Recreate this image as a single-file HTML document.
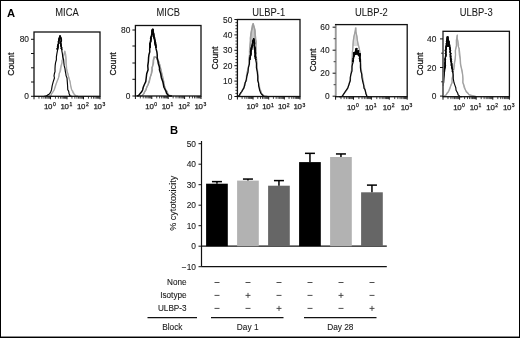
<!DOCTYPE html>
<html><head><meta charset="utf-8"><style>
html,body{margin:0;padding:0;background:#fff;}
body{width:520px;height:338px;overflow:hidden;font-family:"Liberation Sans",sans-serif;}
svg{display:block;}
#w{filter:grayscale(1);width:520px;height:338px;}
</style></head><body><div id="w">
<svg width="520" height="338" viewBox="0 0 520 338" font-family="Liberation Sans, sans-serif"><rect x="0.5" y="0.5" width="519" height="337" fill="none" stroke="#000" stroke-width="1"/>
<line x1="1" y1="336.5" x2="519" y2="336.5" stroke="#000" stroke-width="1" stroke-opacity="0.45"/>
<text x="7" y="16.5" font-size="11.2" text-anchor="start" font-weight="bold" fill="#000" stroke="#000" stroke-width="0" >A</text>
<text x="170" y="134" font-size="11.2" text-anchor="start" font-weight="bold" fill="#000" stroke="#000" stroke-width="0" >B</text>
<text x="0" y="0" font-size="10.2" text-anchor="middle" font-weight="normal" fill="#1a1a1a" stroke="#1a1a1a" stroke-width="0.08" transform="translate(67.0 16) scale(0.92 1)">MICA</text>
<polyline points="47.00,96.30 48.19,96.20 49.21,96.10 50.46,96.00 51.40,93.90 53.12,91.80 54.36,89.70 55.66,85.80 56.69,81.90 58.42,78.00 58.80,75.87 59.27,73.73 60.36,71.60 61.00,68.63 60.84,65.67 62.09,62.70 62.28,60.80 62.51,58.90 62.83,57.00 63.77,55.07 64.23,53.13 65.05,51.20 65.23,52.13 65.01,53.07 65.71,54.00 66.12,56.90 66.34,59.80 66.29,62.70 66.14,65.67 66.40,68.63 66.81,71.60 68.09,73.73 68.21,75.87 68.89,78.00 70.22,81.90 70.65,85.80 71.74,89.70 72.35,91.13 72.75,92.57 73.87,94.00 74.81,94.67 74.99,95.33 76.00,96.00 76.45,96.10 77.26,96.20 78.00,96.30" fill="none" stroke="#9c9c9c" stroke-width="1.2" stroke-linejoin="round" stroke-opacity="0.7"/>
<polyline points="47.00,96.30 48.10,96.20 49.31,96.10 50.74,96.00 51.61,93.90 52.87,91.80 54.17,89.70 55.28,85.80 56.98,81.90 58.50,78.00 59.17,75.87 59.14,73.73 59.84,71.60 60.27,68.63 61.45,65.67 61.95,62.70 61.83,60.80 62.99,58.90 63.37,57.00 63.76,55.07 64.36,53.13 64.63,51.20 64.71,52.13 65.32,53.07 65.15,54.00 65.49,56.90 65.76,59.80 65.82,62.70 66.47,65.67 66.75,68.63 67.37,71.60 67.75,73.73 68.48,75.87 69.00,78.00 70.03,81.90 70.77,85.80 71.52,89.70 72.80,91.13 73.50,92.57 74.07,94.00 74.70,94.67 75.12,95.33 76.00,96.00 76.45,96.10 77.16,96.20 78.00,96.30" fill="none" stroke="#9c9c9c" stroke-width="1.2" stroke-linejoin="round" stroke-opacity="0.7"/>
<polyline points="57.47,50.00 57.02,48.75 57.42,47.50 58.31,46.25 57.70,45.00 58.90,43.75 58.27,42.50 58.12,41.25 58.92,40.00 58.83,38.95 58.92,37.90 59.59,36.85 60.14,35.80 60.04,36.85 61.24,37.90 60.75,38.95 61.58,40.00 60.99,41.25 60.54,42.50 60.91,43.75 60.90,45.00 61.40,46.25 61.36,47.50 61.82,48.75 61.86,50.00" fill="none" stroke="#050505" stroke-width="1" stroke-linejoin="round"/>
<polyline points="57.47,50.00 57.05,48.75 57.59,47.50 57.32,46.25 57.90,45.00 58.75,43.75 58.87,42.50 58.76,41.25 59.36,40.00 59.23,38.95 60.11,37.90 60.05,36.85 59.70,35.80 60.57,36.85 60.72,37.90 61.08,38.95 60.90,40.00 61.47,41.25 60.66,42.50 60.72,43.75 60.90,45.00 60.78,46.25 61.05,47.50 61.17,48.75 61.86,50.00" fill="none" stroke="#050505" stroke-width="1" stroke-linejoin="round"/>
<polyline points="57.47,50.00 58.02,48.75 58.04,47.50 57.89,46.25 57.78,45.00 58.65,43.75 59.26,42.50 58.70,41.25 59.49,40.00 58.65,38.95 59.64,37.90 59.48,36.85 60.19,35.80 60.63,36.85 61.25,37.90 61.06,38.95 61.82,40.00 60.96,41.25 60.58,42.50 60.95,43.75 60.90,45.00 61.44,46.25 61.67,47.50 60.97,48.75 61.86,50.00" fill="none" stroke="#050505" stroke-width="1" stroke-linejoin="round"/>
<polyline points="57.47,50.00 57.08,48.75 58.31,47.50 58.16,46.25 57.80,45.00 58.79,43.75 58.73,42.50 59.26,41.25 59.16,40.00 59.61,38.95 59.99,37.90 59.68,36.85 59.63,35.80 61.03,36.85 60.21,37.90 61.10,38.95 61.99,40.00 60.99,41.25 60.77,42.50 60.84,43.75 60.90,45.00 60.72,46.25 61.73,47.50 61.34,48.75 61.86,50.00" fill="none" stroke="#050505" stroke-width="1" stroke-linejoin="round"/>
<polyline points="44.00,96.30 44.95,96.20 45.46,96.10 46.19,96.00 47.38,95.33 48.03,94.67 49.40,94.00 50.32,92.57 51.03,91.13 51.55,89.70 52.14,85.80 53.17,81.90 54.45,78.00 54.02,75.87 54.37,73.73 55.02,71.60 55.00,68.63 55.16,65.67 55.57,62.70 56.39,59.77 56.38,56.83 56.85,53.90 57.42,50.93 57.98,47.97 58.19,45.00 58.17,43.33 58.78,41.67 58.67,40.00 59.12,38.60 59.58,37.20 60.34,35.80 60.42,37.20 61.07,38.60 61.06,40.00 60.90,41.67 60.70,43.33 61.04,45.00 61.72,47.97 61.84,50.93 62.42,53.90 62.73,56.83 63.63,59.77 63.86,62.70 64.18,65.67 64.97,68.63 65.37,71.60 65.80,73.73 66.12,75.87 67.00,78.00 67.31,81.90 67.59,85.80 67.77,89.70 68.63,91.13 68.92,92.57 69.13,94.00 69.68,94.67 69.72,95.33 70.00,96.00 70.56,96.10 71.06,96.20 72.00,96.30" fill="none" stroke="#050505" stroke-width="1.15" stroke-linejoin="round" stroke-opacity="1"/>
<rect x="34" y="32" width="66" height="64.3" fill="none" stroke="#111" stroke-width="1.3"/>
<line x1="31" y1="39.3" x2="34" y2="39.3" stroke="#111" stroke-width="1"/>
<text x="29" y="42.3" font-size="8.4" text-anchor="end" font-weight="normal" fill="#1a1a1a" stroke="#1a1a1a" stroke-width="0.12" >80</text>
<line x1="31" y1="96.3" x2="34" y2="96.3" stroke="#111" stroke-width="1"/>
<text x="29" y="99.3" font-size="8.4" text-anchor="end" font-weight="normal" fill="#1a1a1a" stroke="#1a1a1a" stroke-width="0.12" >0</text>
<line x1="31" y1="53.5" x2="34" y2="53.5" stroke="#111" stroke-width="1"/>
<line x1="31" y1="67.8" x2="34" y2="67.8" stroke="#111" stroke-width="1"/>
<line x1="31" y1="82" x2="34" y2="82" stroke="#111" stroke-width="1"/>
<line x1="34.0" y1="96.3" x2="34.0" y2="99.3" stroke="#111" stroke-width="1"/>
<line x1="50.5" y1="96.3" x2="50.5" y2="99.3" stroke="#111" stroke-width="1"/>
<line x1="67.0" y1="96.3" x2="67.0" y2="99.3" stroke="#111" stroke-width="1"/>
<line x1="83.5" y1="96.3" x2="83.5" y2="99.3" stroke="#111" stroke-width="1"/>
<line x1="100.0" y1="96.3" x2="100.0" y2="99.3" stroke="#111" stroke-width="1"/>
<line x1="38.96699492845569" y1="96.3" x2="38.96699492845569" y2="98.7" stroke="#111" stroke-width="0.8"/>
<line x1="41.87250070287443" y1="96.3" x2="41.87250070287443" y2="98.7" stroke="#111" stroke-width="0.8"/>
<line x1="43.93398985691138" y1="96.3" x2="43.93398985691138" y2="98.7" stroke="#111" stroke-width="0.8"/>
<line x1="45.53300507154431" y1="96.3" x2="45.53300507154431" y2="98.7" stroke="#111" stroke-width="0.8"/>
<line x1="46.839495631330124" y1="96.3" x2="46.839495631330124" y2="98.7" stroke="#111" stroke-width="0.8"/>
<line x1="47.944117660235236" y1="96.3" x2="47.944117660235236" y2="98.7" stroke="#111" stroke-width="0.8"/>
<line x1="48.90098478536707" y1="96.3" x2="48.90098478536707" y2="98.7" stroke="#111" stroke-width="0.8"/>
<line x1="49.74500140574886" y1="96.3" x2="49.74500140574886" y2="98.7" stroke="#111" stroke-width="0.8"/>
<line x1="55.46699492845569" y1="96.3" x2="55.46699492845569" y2="98.7" stroke="#111" stroke-width="0.8"/>
<line x1="58.37250070287443" y1="96.3" x2="58.37250070287443" y2="98.7" stroke="#111" stroke-width="0.8"/>
<line x1="60.43398985691138" y1="96.3" x2="60.43398985691138" y2="98.7" stroke="#111" stroke-width="0.8"/>
<line x1="62.03300507154431" y1="96.3" x2="62.03300507154431" y2="98.7" stroke="#111" stroke-width="0.8"/>
<line x1="63.339495631330124" y1="96.3" x2="63.339495631330124" y2="98.7" stroke="#111" stroke-width="0.8"/>
<line x1="64.44411766023524" y1="96.3" x2="64.44411766023524" y2="98.7" stroke="#111" stroke-width="0.8"/>
<line x1="65.40098478536707" y1="96.3" x2="65.40098478536707" y2="98.7" stroke="#111" stroke-width="0.8"/>
<line x1="66.24500140574887" y1="96.3" x2="66.24500140574887" y2="98.7" stroke="#111" stroke-width="0.8"/>
<line x1="71.96699492845569" y1="96.3" x2="71.96699492845569" y2="98.7" stroke="#111" stroke-width="0.8"/>
<line x1="74.87250070287443" y1="96.3" x2="74.87250070287443" y2="98.7" stroke="#111" stroke-width="0.8"/>
<line x1="76.93398985691138" y1="96.3" x2="76.93398985691138" y2="98.7" stroke="#111" stroke-width="0.8"/>
<line x1="78.53300507154431" y1="96.3" x2="78.53300507154431" y2="98.7" stroke="#111" stroke-width="0.8"/>
<line x1="79.83949563133012" y1="96.3" x2="79.83949563133012" y2="98.7" stroke="#111" stroke-width="0.8"/>
<line x1="80.94411766023524" y1="96.3" x2="80.94411766023524" y2="98.7" stroke="#111" stroke-width="0.8"/>
<line x1="81.90098478536707" y1="96.3" x2="81.90098478536707" y2="98.7" stroke="#111" stroke-width="0.8"/>
<line x1="82.74500140574887" y1="96.3" x2="82.74500140574887" y2="98.7" stroke="#111" stroke-width="0.8"/>
<line x1="88.46699492845569" y1="96.3" x2="88.46699492845569" y2="98.7" stroke="#111" stroke-width="0.8"/>
<line x1="91.37250070287443" y1="96.3" x2="91.37250070287443" y2="98.7" stroke="#111" stroke-width="0.8"/>
<line x1="93.43398985691138" y1="96.3" x2="93.43398985691138" y2="98.7" stroke="#111" stroke-width="0.8"/>
<line x1="95.03300507154431" y1="96.3" x2="95.03300507154431" y2="98.7" stroke="#111" stroke-width="0.8"/>
<line x1="96.33949563133012" y1="96.3" x2="96.33949563133012" y2="98.7" stroke="#111" stroke-width="0.8"/>
<line x1="97.44411766023524" y1="96.3" x2="97.44411766023524" y2="98.7" stroke="#111" stroke-width="0.8"/>
<line x1="98.40098478536707" y1="96.3" x2="98.40098478536707" y2="98.7" stroke="#111" stroke-width="0.8"/>
<line x1="99.24500140574887" y1="96.3" x2="99.24500140574887" y2="98.7" stroke="#111" stroke-width="0.8"/>
<text x="49.7" y="109.2" font-size="7.9" text-anchor="middle" fill="#1a1a1a" stroke="#1a1a1a" stroke-width="0.25" letter-spacing="-0.35">10<tspan font-size="5" dx="0.75" dy="-2.9">0</tspan></text>
<text x="66.2" y="109.2" font-size="7.9" text-anchor="middle" fill="#1a1a1a" stroke="#1a1a1a" stroke-width="0.25" letter-spacing="-0.35">10<tspan font-size="5" dx="0.75" dy="-2.9">1</tspan></text>
<text x="82.7" y="109.2" font-size="7.9" text-anchor="middle" fill="#1a1a1a" stroke="#1a1a1a" stroke-width="0.25" letter-spacing="-0.35">10<tspan font-size="5" dx="0.75" dy="-2.9">2</tspan></text>
<text x="99.2" y="109.2" font-size="7.9" text-anchor="middle" fill="#1a1a1a" stroke="#1a1a1a" stroke-width="0.25" letter-spacing="-0.35">10<tspan font-size="5" dx="0.75" dy="-2.9">3</tspan></text>
<text x="0" y="0" font-size="9.8" text-anchor="middle" fill="#1a1a1a" stroke="#1a1a1a" stroke-width="0.3" transform="translate(13.6 64.2) rotate(-90) scale(0.88 1)">Count</text>
<text x="0" y="0" font-size="10.2" text-anchor="middle" font-weight="normal" fill="#1a1a1a" stroke="#1a1a1a" stroke-width="0.08" transform="translate(168.2 16) scale(0.92 1)">MICB</text>
<polyline points="140.00,96.00 140.87,95.83 141.46,95.67 142.03,95.50 143.82,93.67 144.54,91.83 145.76,90.00 146.90,87.23 148.14,84.47 149.49,81.70 149.96,77.73 151.49,73.77 152.49,69.80 151.91,68.73 151.91,67.67 152.16,66.60 153.44,63.37 153.80,60.13 154.72,56.90 155.51,57.10 155.92,57.30 156.54,57.50 156.83,59.07 157.56,60.63 159.11,62.20 159.71,64.73 160.53,67.27 161.07,69.80 161.97,73.77 162.74,77.73 163.80,81.70 163.81,84.47 164.99,87.23 165.61,90.00 167.03,91.67 167.98,93.33 168.50,95.00 169.09,95.33 169.75,95.67 171.00,96.00" fill="none" stroke="#9c9c9c" stroke-width="1.2" stroke-linejoin="round" stroke-opacity="0.8"/>
<polyline points="140.00,96.00 140.35,95.83 141.28,95.67 142.39,95.50 143.85,93.67 144.47,91.83 145.61,90.00 146.73,87.23 148.26,84.47 148.65,81.70 150.24,77.73 151.16,73.77 151.64,69.80 152.20,68.73 152.28,67.67 152.41,66.60 153.60,63.37 153.29,60.13 153.82,56.90 155.47,57.10 155.67,57.30 156.20,57.50 157.10,59.07 157.90,60.63 159.26,62.20 159.24,64.73 159.98,67.27 161.08,69.80 161.85,73.77 163.05,77.73 163.74,81.70 164.06,84.47 164.70,87.23 166.14,90.00 167.19,91.67 167.13,93.33 168.50,95.00 169.57,95.33 170.54,95.67 171.00,96.00" fill="none" stroke="#9c9c9c" stroke-width="1.2" stroke-linejoin="round" stroke-opacity="0.8"/>
<polyline points="140.00,96.00 140.41,95.83 141.38,95.67 142.30,95.50 144.07,93.67 144.83,91.83 146.22,90.00 146.60,87.23 148.01,84.47 149.34,81.70 150.02,77.73 151.44,73.77 152.38,69.80 152.04,68.73 151.83,67.67 152.76,66.60 152.73,63.37 153.21,60.13 154.53,56.90 155.38,57.10 156.10,57.30 156.95,57.50 156.97,59.07 157.61,60.63 158.42,62.20 160.01,64.73 159.88,67.27 160.66,69.80 161.32,73.77 162.15,77.73 162.94,81.70 164.05,84.47 164.66,87.23 165.61,90.00 167.13,91.67 167.27,93.33 168.50,95.00 169.65,95.33 170.41,95.67 171.00,96.00" fill="none" stroke="#9c9c9c" stroke-width="1.2" stroke-linejoin="round" stroke-opacity="0.8"/>
<polyline points="149.96,48.00 149.83,46.00 149.89,44.00 150.80,42.00 150.59,40.00 151.14,38.75 150.94,37.50 151.86,36.25 151.99,35.00 151.82,33.50 152.62,32.00 151.95,30.50 152.10,29.00 153.31,30.50 153.63,32.00 153.66,33.50 153.82,35.00 153.19,36.25 153.80,37.50 154.86,38.75 154.80,40.00 154.40,42.00 155.12,44.00 155.30,46.00 155.97,48.00" fill="none" stroke="#050505" stroke-width="1" stroke-linejoin="round"/>
<polyline points="149.96,48.00 150.09,46.00 150.13,44.00 150.82,42.00 150.91,40.00 151.16,38.75 150.85,37.50 151.89,36.25 151.06,35.00 152.16,33.50 152.24,32.00 151.81,30.50 153.12,29.00 153.00,30.50 152.40,32.00 153.61,33.50 153.75,35.00 153.86,36.25 153.47,37.50 154.70,38.75 154.80,40.00 155.75,42.00 155.97,44.00 155.39,46.00 155.97,48.00" fill="none" stroke="#050505" stroke-width="1" stroke-linejoin="round"/>
<polyline points="149.96,48.00 150.55,46.00 149.67,44.00 150.56,42.00 150.37,40.00 150.82,38.75 150.87,37.50 151.12,36.25 151.75,35.00 152.23,33.50 151.54,32.00 152.63,30.50 152.67,29.00 152.72,30.50 153.27,32.00 153.61,33.50 153.77,35.00 153.81,36.25 154.60,37.50 154.86,38.75 154.80,40.00 155.06,42.00 154.90,44.00 155.39,46.00 155.97,48.00" fill="none" stroke="#050505" stroke-width="1" stroke-linejoin="round"/>
<polyline points="149.96,48.00 149.74,46.00 150.01,44.00 150.76,42.00 151.06,40.00 151.44,38.75 151.33,37.50 151.22,36.25 152.18,35.00 152.28,33.50 152.48,32.00 152.59,30.50 153.05,29.00 152.61,30.50 153.27,32.00 153.90,33.50 153.71,35.00 154.36,36.25 154.73,37.50 153.98,38.75 154.80,40.00 154.61,42.00 155.74,44.00 156.33,46.00 155.97,48.00" fill="none" stroke="#050505" stroke-width="1" stroke-linejoin="round"/>
<polyline points="137.00,96.00 137.64,95.83 138.60,95.67 138.67,95.50 140.01,93.67 141.66,91.83 142.62,90.00 143.24,87.23 144.39,84.47 145.77,81.70 146.23,77.73 146.70,73.77 148.08,69.80 147.77,65.77 148.37,61.73 148.58,57.70 148.94,54.77 149.76,51.83 149.67,48.90 150.17,45.93 150.03,42.97 150.83,40.00 150.58,38.33 151.18,36.67 151.73,35.00 152.10,33.00 151.88,31.00 152.76,29.00 153.07,31.00 153.04,33.00 153.68,35.00 153.74,36.67 154.12,38.33 154.56,40.00 155.10,42.97 155.90,45.93 156.07,48.90 156.88,51.83 157.24,54.77 157.20,57.70 157.95,60.67 158.30,63.63 159.26,66.60 159.44,67.67 159.59,68.73 159.41,69.80 160.74,73.77 161.36,77.73 162.84,81.70 163.37,84.47 163.92,87.23 165.33,90.00 166.11,91.57 166.48,93.13 167.70,94.70 168.02,95.13 168.96,95.57 169.70,96.00 170.52,96.00 171.44,96.00 172.00,96.00" fill="none" stroke="#050505" stroke-width="1.5" stroke-linejoin="round" stroke-opacity="1"/>
<rect x="135.4" y="25.5" width="65.6" height="70.5" fill="none" stroke="#111" stroke-width="1.3"/>
<line x1="132.4" y1="30" x2="135.4" y2="30" stroke="#111" stroke-width="1"/>
<text x="130.4" y="33" font-size="8.4" text-anchor="end" font-weight="normal" fill="#1a1a1a" stroke="#1a1a1a" stroke-width="0.12" >80</text>
<line x1="132.4" y1="96" x2="135.4" y2="96" stroke="#111" stroke-width="1"/>
<text x="130.4" y="99" font-size="8.4" text-anchor="end" font-weight="normal" fill="#1a1a1a" stroke="#1a1a1a" stroke-width="0.12" >0</text>
<line x1="132.4" y1="46" x2="135.4" y2="46" stroke="#111" stroke-width="1"/>
<line x1="132.4" y1="63" x2="135.4" y2="63" stroke="#111" stroke-width="1"/>
<line x1="132.4" y1="79.3" x2="135.4" y2="79.3" stroke="#111" stroke-width="1"/>
<line x1="135.4" y1="96" x2="135.4" y2="99" stroke="#111" stroke-width="1"/>
<line x1="151.8" y1="96" x2="151.8" y2="99" stroke="#111" stroke-width="1"/>
<line x1="168.2" y1="96" x2="168.2" y2="99" stroke="#111" stroke-width="1"/>
<line x1="184.6" y1="96" x2="184.6" y2="99" stroke="#111" stroke-width="1"/>
<line x1="201.0" y1="96" x2="201.0" y2="99" stroke="#111" stroke-width="1"/>
<line x1="140.3368919288893" y1="96" x2="140.3368919288893" y2="98.4" stroke="#111" stroke-width="0.8"/>
<line x1="143.22478857740248" y1="96" x2="143.22478857740248" y2="98.4" stroke="#111" stroke-width="0.8"/>
<line x1="145.2737838577786" y1="96" x2="145.2737838577786" y2="98.4" stroke="#111" stroke-width="0.8"/>
<line x1="146.8631080711107" y1="96" x2="146.8631080711107" y2="98.4" stroke="#111" stroke-width="0.8"/>
<line x1="148.16168050629176" y1="96" x2="148.16168050629176" y2="98.4" stroke="#111" stroke-width="0.8"/>
<line x1="149.25960785623383" y1="96" x2="149.25960785623383" y2="98.4" stroke="#111" stroke-width="0.8"/>
<line x1="150.21067578666788" y1="96" x2="150.21067578666788" y2="98.4" stroke="#111" stroke-width="0.8"/>
<line x1="151.04957715480492" y1="96" x2="151.04957715480492" y2="98.4" stroke="#111" stroke-width="0.8"/>
<line x1="156.7368919288893" y1="96" x2="156.7368919288893" y2="98.4" stroke="#111" stroke-width="0.8"/>
<line x1="159.62478857740248" y1="96" x2="159.62478857740248" y2="98.4" stroke="#111" stroke-width="0.8"/>
<line x1="161.6737838577786" y1="96" x2="161.6737838577786" y2="98.4" stroke="#111" stroke-width="0.8"/>
<line x1="163.2631080711107" y1="96" x2="163.2631080711107" y2="98.4" stroke="#111" stroke-width="0.8"/>
<line x1="164.56168050629176" y1="96" x2="164.56168050629176" y2="98.4" stroke="#111" stroke-width="0.8"/>
<line x1="165.65960785623383" y1="96" x2="165.65960785623383" y2="98.4" stroke="#111" stroke-width="0.8"/>
<line x1="166.61067578666788" y1="96" x2="166.61067578666788" y2="98.4" stroke="#111" stroke-width="0.8"/>
<line x1="167.44957715480493" y1="96" x2="167.44957715480493" y2="98.4" stroke="#111" stroke-width="0.8"/>
<line x1="173.13689192888927" y1="96" x2="173.13689192888927" y2="98.4" stroke="#111" stroke-width="0.8"/>
<line x1="176.02478857740246" y1="96" x2="176.02478857740246" y2="98.4" stroke="#111" stroke-width="0.8"/>
<line x1="178.07378385777858" y1="96" x2="178.07378385777858" y2="98.4" stroke="#111" stroke-width="0.8"/>
<line x1="179.66310807111068" y1="96" x2="179.66310807111068" y2="98.4" stroke="#111" stroke-width="0.8"/>
<line x1="180.96168050629174" y1="96" x2="180.96168050629174" y2="98.4" stroke="#111" stroke-width="0.8"/>
<line x1="182.0596078562338" y1="96" x2="182.0596078562338" y2="98.4" stroke="#111" stroke-width="0.8"/>
<line x1="183.01067578666786" y1="96" x2="183.01067578666786" y2="98.4" stroke="#111" stroke-width="0.8"/>
<line x1="183.8495771548049" y1="96" x2="183.8495771548049" y2="98.4" stroke="#111" stroke-width="0.8"/>
<line x1="189.53689192888928" y1="96" x2="189.53689192888928" y2="98.4" stroke="#111" stroke-width="0.8"/>
<line x1="192.42478857740247" y1="96" x2="192.42478857740247" y2="98.4" stroke="#111" stroke-width="0.8"/>
<line x1="194.47378385777859" y1="96" x2="194.47378385777859" y2="98.4" stroke="#111" stroke-width="0.8"/>
<line x1="196.0631080711107" y1="96" x2="196.0631080711107" y2="98.4" stroke="#111" stroke-width="0.8"/>
<line x1="197.36168050629175" y1="96" x2="197.36168050629175" y2="98.4" stroke="#111" stroke-width="0.8"/>
<line x1="198.45960785623382" y1="96" x2="198.45960785623382" y2="98.4" stroke="#111" stroke-width="0.8"/>
<line x1="199.41067578666787" y1="96" x2="199.41067578666787" y2="98.4" stroke="#111" stroke-width="0.8"/>
<line x1="200.2495771548049" y1="96" x2="200.2495771548049" y2="98.4" stroke="#111" stroke-width="0.8"/>
<text x="151.0" y="108.9" font-size="7.9" text-anchor="middle" fill="#1a1a1a" stroke="#1a1a1a" stroke-width="0.25" letter-spacing="-0.35">10<tspan font-size="5" dx="0.75" dy="-2.9">0</tspan></text>
<text x="167.39999999999998" y="108.9" font-size="7.9" text-anchor="middle" fill="#1a1a1a" stroke="#1a1a1a" stroke-width="0.25" letter-spacing="-0.35">10<tspan font-size="5" dx="0.75" dy="-2.9">1</tspan></text>
<text x="183.79999999999998" y="108.9" font-size="7.9" text-anchor="middle" fill="#1a1a1a" stroke="#1a1a1a" stroke-width="0.25" letter-spacing="-0.35">10<tspan font-size="5" dx="0.75" dy="-2.9">2</tspan></text>
<text x="200.2" y="108.9" font-size="7.9" text-anchor="middle" fill="#1a1a1a" stroke="#1a1a1a" stroke-width="0.25" letter-spacing="-0.35">10<tspan font-size="5" dx="0.75" dy="-2.9">3</tspan></text>
<text x="0" y="0" font-size="9.8" text-anchor="middle" fill="#1a1a1a" stroke="#1a1a1a" stroke-width="0.3" transform="translate(115.6 63.9) rotate(-90) scale(0.88 1)">Count</text>
<text x="0" y="0" font-size="10.2" text-anchor="middle" font-weight="normal" fill="#1a1a1a" stroke="#1a1a1a" stroke-width="0.08" transform="translate(268.7 16) scale(0.92 1)">ULBP-1</text>
<polygon points="249.94,50.00 250.40,42.00 251.30,30.50 252.90,23.60 254.80,30.50 255.80,42.00 255.92,50.00" fill="#c8c8c8" stroke="none"/>
<polyline points="239.00,96.50 239.66,95.33 240.10,94.17 241.14,93.00 241.61,91.33 242.71,89.67 244.07,88.00 243.99,85.50 245.02,83.00 246.18,80.50 246.35,76.23 247.19,71.97 248.63,67.70 249.21,63.80 248.99,59.90 249.29,56.00 250.34,51.33 249.96,46.67 250.50,42.00 250.81,38.17 251.13,34.33 251.72,30.50 252.30,28.20 252.56,25.90 253.22,23.60 253.83,25.90 254.31,28.20 254.73,30.50 254.86,34.33 255.23,38.17 256.23,42.00 256.07,46.33 255.54,50.67 256.41,55.00 256.10,59.23 256.86,63.47 256.96,67.70 257.17,71.97 257.51,76.23 258.28,80.50 258.55,83.03 259.19,85.57 259.70,88.10 260.42,89.80 261.05,91.50 261.30,93.20 262.33,94.23 263.57,95.27 264.00,96.30" fill="none" stroke="#9c9c9c" stroke-width="1.2" stroke-linejoin="round" stroke-opacity="0.8"/>
<polyline points="239.00,96.50 239.41,95.33 240.34,94.17 240.66,93.00 242.19,91.33 242.46,89.67 243.65,88.00 244.83,85.50 245.10,83.00 246.47,80.50 247.00,76.23 247.58,71.97 248.43,67.70 248.82,63.80 249.03,59.90 250.10,56.00 249.77,51.33 250.62,46.67 250.75,42.00 250.23,38.17 250.76,34.33 251.28,30.50 252.15,28.20 252.04,25.90 253.02,23.60 253.40,25.90 254.45,28.20 255.23,30.50 255.40,34.33 255.16,38.17 256.06,42.00 255.80,46.33 256.27,50.67 255.97,55.00 256.74,59.23 257.15,63.47 257.32,67.70 257.73,71.97 258.12,76.23 258.29,80.50 258.31,83.03 259.55,85.57 259.46,88.10 259.62,89.80 260.63,91.50 261.30,93.20 262.11,94.23 262.80,95.27 264.00,96.30" fill="none" stroke="#9c9c9c" stroke-width="1.2" stroke-linejoin="round" stroke-opacity="0.8"/>
<polyline points="239.00,96.50 240.15,95.33 239.89,94.17 241.23,93.00 241.85,91.33 243.18,89.67 243.51,88.00 244.82,85.50 244.86,83.00 246.49,80.50 246.68,76.23 247.22,71.97 248.15,67.70 248.86,63.80 248.70,59.90 249.49,56.00 249.38,51.33 249.70,46.67 250.07,42.00 250.43,38.17 250.77,34.33 251.58,30.50 251.75,28.20 252.72,25.90 253.30,23.60 253.93,25.90 254.61,28.20 254.88,30.50 255.30,34.33 255.85,38.17 255.84,42.00 255.51,46.33 255.95,50.67 256.03,55.00 256.01,59.23 256.26,63.47 256.68,67.70 257.60,71.97 258.11,76.23 258.36,80.50 258.56,83.03 258.60,85.57 259.00,88.10 260.25,89.80 260.73,91.50 261.30,93.20 262.16,94.23 262.77,95.27 264.00,96.30" fill="none" stroke="#9c9c9c" stroke-width="1.2" stroke-linejoin="round" stroke-opacity="0.8"/>
<polyline points="249.82,60.00 250.58,59.00 249.89,58.00 250.17,57.00 251.04,56.00 251.28,53.95 250.80,51.90 251.15,49.85 252.08,47.80 252.30,45.50 252.63,43.20 252.39,40.90 253.96,38.60 254.13,40.90 254.08,43.20 254.18,45.50 254.30,47.80 254.60,49.60 254.64,51.40 255.07,53.20 255.30,55.00 255.70,56.25 255.99,57.50 255.16,58.75 255.81,60.00" fill="none" stroke="#050505" stroke-width="1" stroke-linejoin="round"/>
<polyline points="249.82,60.00 249.53,59.00 250.20,58.00 250.58,57.00 249.85,56.00 251.00,53.95 250.95,51.90 251.74,49.85 251.96,47.80 251.83,45.50 252.78,43.20 253.21,40.90 253.63,38.60 254.18,40.90 254.56,43.20 254.29,45.50 254.75,47.80 255.15,49.60 255.00,51.40 255.52,53.20 255.30,55.00 255.04,56.25 255.19,57.50 255.61,58.75 255.81,60.00" fill="none" stroke="#050505" stroke-width="1" stroke-linejoin="round"/>
<polyline points="249.82,60.00 249.83,59.00 249.88,58.00 250.58,57.00 250.35,56.00 250.82,53.95 250.78,51.90 251.63,49.85 251.56,47.80 252.70,45.50 252.34,43.20 253.01,40.90 253.51,38.60 254.29,40.90 254.04,43.20 254.28,45.50 254.50,47.80 254.56,49.60 254.54,51.40 254.87,53.20 255.30,55.00 254.96,56.25 255.84,57.50 255.10,58.75 255.81,60.00" fill="none" stroke="#050505" stroke-width="1" stroke-linejoin="round"/>
<polyline points="249.82,60.00 249.50,59.00 250.21,58.00 250.18,57.00 250.51,56.00 250.70,53.95 250.32,51.90 250.63,49.85 250.89,47.80 252.27,45.50 252.50,43.20 253.63,40.90 253.47,38.60 254.28,40.90 254.87,43.20 254.30,45.50 255.45,47.80 255.05,49.60 255.41,51.40 255.78,53.20 255.30,55.00 254.74,56.25 254.95,57.50 256.24,58.75 255.81,60.00" fill="none" stroke="#050505" stroke-width="1" stroke-linejoin="round"/>
<polyline points="237.50,96.50 237.70,96.40 238.22,96.30 238.34,96.20 239.38,95.20 239.81,94.20 240.38,93.20 241.81,91.50 242.77,89.80 243.85,88.10 244.58,85.57 245.11,83.03 246.12,80.50 246.85,76.23 248.07,71.97 248.36,67.70 249.47,63.80 249.60,59.90 250.26,56.00 250.86,53.27 251.26,50.53 251.51,47.80 252.24,44.73 252.96,41.67 253.67,38.60 253.79,41.67 254.39,44.73 254.66,47.80 255.15,50.20 255.06,52.60 255.12,55.00 255.58,59.23 256.48,63.47 256.34,67.70 257.31,71.97 257.75,76.23 257.69,80.50 258.56,83.03 258.55,85.57 259.30,88.10 259.47,89.80 260.14,91.50 260.80,93.20 261.58,94.23 262.76,95.27 263.40,96.30 265.04,96.37 266.14,96.43 268.00,96.50" fill="none" stroke="#050505" stroke-width="1.15" stroke-linejoin="round" stroke-opacity="1"/>
<rect x="237.4" y="19.5" width="62.599999999999994" height="77.0" fill="none" stroke="#111" stroke-width="1.3"/>
<line x1="234.4" y1="19.5" x2="237.4" y2="19.5" stroke="#111" stroke-width="1"/>
<text x="232.4" y="22.5" font-size="8.4" text-anchor="end" font-weight="normal" fill="#1a1a1a" stroke="#1a1a1a" stroke-width="0.12" >50</text>
<line x1="234.4" y1="34.9" x2="237.4" y2="34.9" stroke="#111" stroke-width="1"/>
<text x="232.4" y="37.9" font-size="8.4" text-anchor="end" font-weight="normal" fill="#1a1a1a" stroke="#1a1a1a" stroke-width="0.12" >40</text>
<line x1="234.4" y1="50.3" x2="237.4" y2="50.3" stroke="#111" stroke-width="1"/>
<text x="232.4" y="53.3" font-size="8.4" text-anchor="end" font-weight="normal" fill="#1a1a1a" stroke="#1a1a1a" stroke-width="0.12" >30</text>
<line x1="234.4" y1="65.7" x2="237.4" y2="65.7" stroke="#111" stroke-width="1"/>
<text x="232.4" y="68.7" font-size="8.4" text-anchor="end" font-weight="normal" fill="#1a1a1a" stroke="#1a1a1a" stroke-width="0.12" >20</text>
<line x1="234.4" y1="81.1" x2="237.4" y2="81.1" stroke="#111" stroke-width="1"/>
<text x="232.4" y="84.1" font-size="8.4" text-anchor="end" font-weight="normal" fill="#1a1a1a" stroke="#1a1a1a" stroke-width="0.12" >10</text>
<line x1="234.4" y1="96.5" x2="237.4" y2="96.5" stroke="#111" stroke-width="1"/>
<text x="232.4" y="99.5" font-size="8.4" text-anchor="end" font-weight="normal" fill="#1a1a1a" stroke="#1a1a1a" stroke-width="0.12" >0</text>
<line x1="235.4" y1="22.58" x2="237.4" y2="22.58" stroke="#111" stroke-width="0.8"/>
<line x1="235.4" y1="25.66" x2="237.4" y2="25.66" stroke="#111" stroke-width="0.8"/>
<line x1="235.4" y1="28.740000000000002" x2="237.4" y2="28.740000000000002" stroke="#111" stroke-width="0.8"/>
<line x1="235.4" y1="31.82" x2="237.4" y2="31.82" stroke="#111" stroke-width="0.8"/>
<line x1="235.4" y1="37.980000000000004" x2="237.4" y2="37.980000000000004" stroke="#111" stroke-width="0.8"/>
<line x1="235.4" y1="41.06" x2="237.4" y2="41.06" stroke="#111" stroke-width="0.8"/>
<line x1="235.4" y1="44.14" x2="237.4" y2="44.14" stroke="#111" stroke-width="0.8"/>
<line x1="235.4" y1="47.22" x2="237.4" y2="47.22" stroke="#111" stroke-width="0.8"/>
<line x1="235.4" y1="53.38" x2="237.4" y2="53.38" stroke="#111" stroke-width="0.8"/>
<line x1="235.4" y1="56.46" x2="237.4" y2="56.46" stroke="#111" stroke-width="0.8"/>
<line x1="235.4" y1="59.540000000000006" x2="237.4" y2="59.540000000000006" stroke="#111" stroke-width="0.8"/>
<line x1="235.4" y1="62.62" x2="237.4" y2="62.62" stroke="#111" stroke-width="0.8"/>
<line x1="235.4" y1="68.78" x2="237.4" y2="68.78" stroke="#111" stroke-width="0.8"/>
<line x1="235.4" y1="71.86" x2="237.4" y2="71.86" stroke="#111" stroke-width="0.8"/>
<line x1="235.4" y1="74.94" x2="237.4" y2="74.94" stroke="#111" stroke-width="0.8"/>
<line x1="235.4" y1="78.02000000000001" x2="237.4" y2="78.02000000000001" stroke="#111" stroke-width="0.8"/>
<line x1="235.4" y1="84.18" x2="237.4" y2="84.18" stroke="#111" stroke-width="0.8"/>
<line x1="235.4" y1="87.26" x2="237.4" y2="87.26" stroke="#111" stroke-width="0.8"/>
<line x1="235.4" y1="90.34" x2="237.4" y2="90.34" stroke="#111" stroke-width="0.8"/>
<line x1="235.4" y1="93.42" x2="237.4" y2="93.42" stroke="#111" stroke-width="0.8"/>
<line x1="237.4" y1="96.5" x2="237.4" y2="99.5" stroke="#111" stroke-width="1"/>
<line x1="253.05" y1="96.5" x2="253.05" y2="99.5" stroke="#111" stroke-width="1"/>
<line x1="268.7" y1="96.5" x2="268.7" y2="99.5" stroke="#111" stroke-width="1"/>
<line x1="284.35" y1="96.5" x2="284.35" y2="99.5" stroke="#111" stroke-width="1"/>
<line x1="300.0" y1="96.5" x2="300.0" y2="99.5" stroke="#111" stroke-width="1"/>
<line x1="242.11111943214132" y1="96.5" x2="242.11111943214132" y2="98.9" stroke="#111" stroke-width="0.8"/>
<line x1="244.8669476363627" y1="96.5" x2="244.8669476363627" y2="98.9" stroke="#111" stroke-width="0.8"/>
<line x1="246.8222388642826" y1="96.5" x2="246.8222388642826" y2="98.9" stroke="#111" stroke-width="0.8"/>
<line x1="248.3388805678587" y1="96.5" x2="248.3388805678587" y2="98.9" stroke="#111" stroke-width="0.8"/>
<line x1="249.57806706850403" y1="96.5" x2="249.57806706850403" y2="98.9" stroke="#111" stroke-width="0.8"/>
<line x1="250.6257843262231" y1="96.5" x2="250.6257843262231" y2="98.9" stroke="#111" stroke-width="0.8"/>
<line x1="251.53335829642393" y1="96.5" x2="251.53335829642393" y2="98.9" stroke="#111" stroke-width="0.8"/>
<line x1="252.33389527272544" y1="96.5" x2="252.33389527272544" y2="98.9" stroke="#111" stroke-width="0.8"/>
<line x1="257.7611194321413" y1="96.5" x2="257.7611194321413" y2="98.9" stroke="#111" stroke-width="0.8"/>
<line x1="260.5169476363627" y1="96.5" x2="260.5169476363627" y2="98.9" stroke="#111" stroke-width="0.8"/>
<line x1="262.47223886428264" y1="96.5" x2="262.47223886428264" y2="98.9" stroke="#111" stroke-width="0.8"/>
<line x1="263.9888805678587" y1="96.5" x2="263.9888805678587" y2="98.9" stroke="#111" stroke-width="0.8"/>
<line x1="265.22806706850406" y1="96.5" x2="265.22806706850406" y2="98.9" stroke="#111" stroke-width="0.8"/>
<line x1="266.2757843262231" y1="96.5" x2="266.2757843262231" y2="98.9" stroke="#111" stroke-width="0.8"/>
<line x1="267.18335829642393" y1="96.5" x2="267.18335829642393" y2="98.9" stroke="#111" stroke-width="0.8"/>
<line x1="267.9838952727254" y1="96.5" x2="267.9838952727254" y2="98.9" stroke="#111" stroke-width="0.8"/>
<line x1="273.4111194321413" y1="96.5" x2="273.4111194321413" y2="98.9" stroke="#111" stroke-width="0.8"/>
<line x1="276.1669476363627" y1="96.5" x2="276.1669476363627" y2="98.9" stroke="#111" stroke-width="0.8"/>
<line x1="278.1222388642826" y1="96.5" x2="278.1222388642826" y2="98.9" stroke="#111" stroke-width="0.8"/>
<line x1="279.6388805678587" y1="96.5" x2="279.6388805678587" y2="98.9" stroke="#111" stroke-width="0.8"/>
<line x1="280.87806706850404" y1="96.5" x2="280.87806706850404" y2="98.9" stroke="#111" stroke-width="0.8"/>
<line x1="281.9257843262231" y1="96.5" x2="281.9257843262231" y2="98.9" stroke="#111" stroke-width="0.8"/>
<line x1="282.8333582964239" y1="96.5" x2="282.8333582964239" y2="98.9" stroke="#111" stroke-width="0.8"/>
<line x1="283.6338952727254" y1="96.5" x2="283.6338952727254" y2="98.9" stroke="#111" stroke-width="0.8"/>
<line x1="289.0611194321413" y1="96.5" x2="289.0611194321413" y2="98.9" stroke="#111" stroke-width="0.8"/>
<line x1="291.8169476363627" y1="96.5" x2="291.8169476363627" y2="98.9" stroke="#111" stroke-width="0.8"/>
<line x1="293.77223886428266" y1="96.5" x2="293.77223886428266" y2="98.9" stroke="#111" stroke-width="0.8"/>
<line x1="295.2888805678587" y1="96.5" x2="295.2888805678587" y2="98.9" stroke="#111" stroke-width="0.8"/>
<line x1="296.5280670685041" y1="96.5" x2="296.5280670685041" y2="98.9" stroke="#111" stroke-width="0.8"/>
<line x1="297.57578432622313" y1="96.5" x2="297.57578432622313" y2="98.9" stroke="#111" stroke-width="0.8"/>
<line x1="298.48335829642394" y1="96.5" x2="298.48335829642394" y2="98.9" stroke="#111" stroke-width="0.8"/>
<line x1="299.28389527272543" y1="96.5" x2="299.28389527272543" y2="98.9" stroke="#111" stroke-width="0.8"/>
<text x="252.25" y="109.4" font-size="7.9" text-anchor="middle" fill="#1a1a1a" stroke="#1a1a1a" stroke-width="0.25" letter-spacing="-0.35">10<tspan font-size="5" dx="0.75" dy="-2.9">0</tspan></text>
<text x="267.9" y="109.4" font-size="7.9" text-anchor="middle" fill="#1a1a1a" stroke="#1a1a1a" stroke-width="0.25" letter-spacing="-0.35">10<tspan font-size="5" dx="0.75" dy="-2.9">1</tspan></text>
<text x="283.55" y="109.4" font-size="7.9" text-anchor="middle" fill="#1a1a1a" stroke="#1a1a1a" stroke-width="0.25" letter-spacing="-0.35">10<tspan font-size="5" dx="0.75" dy="-2.9">2</tspan></text>
<text x="299.2" y="109.4" font-size="7.9" text-anchor="middle" fill="#1a1a1a" stroke="#1a1a1a" stroke-width="0.25" letter-spacing="-0.35">10<tspan font-size="5" dx="0.75" dy="-2.9">3</tspan></text>
<text x="0" y="0" font-size="9.8" text-anchor="middle" fill="#1a1a1a" stroke="#1a1a1a" stroke-width="0.3" transform="translate(218 58) rotate(-90) scale(0.88 1)">Count</text>
<text x="0" y="0" font-size="10.2" text-anchor="middle" font-weight="normal" fill="#1a1a1a" stroke="#1a1a1a" stroke-width="0.08" transform="translate(371.4 16.2) scale(0.92 1)">ULBP-2</text>
<polygon points="352.99,46.00 353.50,40.90 355.70,27.90 357.40,40.90 358.46,46.00" fill="#dadada" stroke="none"/>
<polyline points="342.00,96.70 343.12,95.53 343.52,94.37 344.47,93.20 345.31,91.47 346.98,89.73 347.46,88.00 348.66,85.50 349.44,83.00 350.35,80.50 350.74,76.23 351.32,71.97 351.93,67.70 351.83,62.47 352.14,57.23 352.24,52.00 352.96,48.30 353.10,44.60 353.22,40.90 353.91,36.57 354.86,32.23 356.04,27.90 355.93,32.23 356.80,36.57 357.59,40.90 357.90,44.60 359.15,48.30 359.97,52.00 360.20,54.67 359.98,57.33 360.80,60.00 360.48,62.57 361.04,65.13 361.21,67.70 361.68,71.97 362.51,76.23 363.19,80.50 363.71,83.00 363.87,85.50 364.82,88.00 365.09,89.73 365.40,91.47 366.00,93.20 366.07,94.30 366.90,95.40 367.00,96.50" fill="none" stroke="#9c9c9c" stroke-width="1.2" stroke-linejoin="round" stroke-opacity="0.8"/>
<polyline points="342.00,96.70 342.71,95.53 343.75,94.37 344.16,93.20 345.90,91.47 346.86,89.73 348.05,88.00 348.37,85.50 349.16,83.00 349.89,80.50 350.59,76.23 351.07,71.97 352.13,67.70 352.04,62.47 352.49,57.23 352.58,52.00 352.66,48.30 352.90,44.60 353.39,40.90 353.90,36.57 355.07,32.23 355.48,27.90 356.02,32.23 357.11,36.57 357.36,40.90 358.48,44.60 359.27,48.30 359.81,52.00 359.79,54.67 359.99,57.33 360.32,60.00 360.83,62.57 360.84,65.13 360.86,67.70 361.33,71.97 362.23,76.23 362.92,80.50 363.20,83.00 363.82,85.50 364.36,88.00 364.94,89.73 365.50,91.47 366.00,93.20 366.38,94.30 366.91,95.40 367.00,96.50" fill="none" stroke="#9c9c9c" stroke-width="1.2" stroke-linejoin="round" stroke-opacity="0.8"/>
<polygon points="353.93,55.00 354.20,52.50 355.00,55.00 355.00,55.00 356.30,48.30 357.10,53.50 358.10,50.50 358.67,55.00 359.16,55.00 359.70,53.50 359.79,55.00" fill="#222" stroke="none"/>
<polyline points="352.87,62.00 353.29,61.00 353.86,60.00 352.78,59.00 353.53,58.00 353.77,56.62 353.64,55.25 353.40,53.88 353.80,52.50 354.00,53.12 355.22,53.75 354.85,54.38 355.46,55.00 355.11,53.33 355.19,51.65 355.70,49.97 356.96,48.30 355.86,49.60 356.23,50.90 356.99,52.20 357.43,53.50 356.79,52.75 356.90,52.00 357.87,51.25 358.40,50.50 357.89,51.88 358.60,53.25 358.02,54.62 358.87,56.00 359.05,55.38 359.38,54.75 359.38,54.12 360.08,53.50 360.02,55.12 359.60,56.75 359.30,58.38 360.10,60.00 360.25,60.50 360.15,61.00 360.38,61.50 360.26,62.00" fill="none" stroke="#050505" stroke-width="1" stroke-linejoin="round"/>
<polyline points="352.87,62.00 352.50,61.00 353.03,60.00 353.84,59.00 353.59,58.00 353.74,56.62 354.33,55.25 353.54,53.88 353.96,52.50 353.99,53.12 355.11,53.75 354.77,54.38 355.19,55.00 355.04,53.33 355.77,51.65 355.42,49.97 356.93,48.30 356.27,49.60 356.39,50.90 357.57,52.20 357.12,53.50 357.48,52.75 357.90,52.00 357.85,51.25 358.76,50.50 357.99,51.88 358.29,53.25 358.71,54.62 358.60,56.00 358.70,55.38 359.50,54.75 359.89,54.12 360.39,53.50 360.29,55.12 359.93,56.75 360.27,58.38 360.10,60.00 359.58,60.50 359.77,61.00 360.58,61.50 360.26,62.00" fill="none" stroke="#050505" stroke-width="1" stroke-linejoin="round"/>
<polyline points="352.87,62.00 353.12,61.00 353.31,60.00 353.16,59.00 353.34,58.00 353.31,56.62 354.46,55.25 354.28,53.88 354.44,52.50 355.01,53.12 354.56,53.75 355.33,54.38 355.08,55.00 355.66,53.33 356.02,51.65 356.58,49.97 356.68,48.30 357.18,49.60 356.76,50.90 356.42,52.20 357.12,53.50 356.72,52.75 358.20,52.00 357.59,51.25 358.14,50.50 358.84,51.88 358.42,53.25 359.01,54.62 358.20,56.00 358.90,55.38 358.68,54.75 359.11,54.12 359.42,53.50 359.72,55.12 359.96,56.75 359.33,58.38 360.10,60.00 360.41,60.50 359.55,61.00 360.12,61.50 360.26,62.00" fill="none" stroke="#050505" stroke-width="1" stroke-linejoin="round"/>
<polyline points="352.87,62.00 352.51,61.00 353.22,60.00 353.29,59.00 353.24,58.00 354.42,56.62 353.54,55.25 354.19,53.88 353.70,52.50 353.72,53.12 353.98,53.75 354.31,54.38 354.50,55.00 354.66,53.33 356.14,51.65 356.30,49.97 355.88,48.30 356.45,49.60 356.97,50.90 357.44,52.20 357.45,53.50 357.27,52.75 357.24,52.00 357.79,51.25 358.46,50.50 358.01,51.88 359.11,53.25 358.42,54.62 358.17,56.00 358.49,55.38 359.18,54.75 359.37,54.12 359.41,53.50 360.12,55.12 359.36,56.75 359.86,58.38 360.10,60.00 360.38,60.50 360.68,61.00 359.96,61.50 360.26,62.00" fill="none" stroke="#050505" stroke-width="1" stroke-linejoin="round"/>
<polyline points="339.00,96.70 339.74,96.63 340.83,96.57 341.85,96.50 342.89,95.40 343.34,94.30 344.32,93.20 345.28,91.50 346.47,89.80 347.74,88.10 348.68,85.57 349.47,83.03 350.31,80.50 350.25,77.33 350.95,74.17 352.01,71.00 352.01,68.67 351.98,66.33 352.58,64.00 353.17,62.00 353.05,60.00 353.50,58.00 353.57,56.17 354.33,54.33 353.99,52.50 354.30,53.33 354.44,54.17 354.72,55.00 355.09,52.77 355.52,50.53 356.32,48.30 356.43,50.03 356.74,51.77 357.16,53.50 357.30,52.50 357.94,51.50 357.92,50.50 358.33,52.33 358.48,54.17 358.97,56.00 359.07,55.17 359.24,54.33 360.00,53.50 360.03,55.67 359.86,57.83 360.22,60.00 360.40,63.67 360.38,67.33 360.80,71.00 361.71,74.17 361.86,77.33 362.48,80.50 363.14,83.03 363.79,85.57 363.95,88.10 365.07,89.80 365.51,91.50 365.79,93.20 366.18,94.30 366.55,95.40 366.60,96.50 367.64,96.57 368.14,96.63 369.00,96.70" fill="none" stroke="#050505" stroke-width="1.15" stroke-linejoin="round" stroke-opacity="1"/>
<rect x="335.6" y="24.6" width="71.59999999999997" height="72.1" fill="none" stroke="#111" stroke-width="1.3"/>
<line x1="335.6" y1="25.25" x2="335.6" y2="96.05" stroke="#9a9a9a" stroke-width="1.4"/>
<line x1="332.6" y1="27.2" x2="335.6" y2="27.2" stroke="#111" stroke-width="1"/>
<text x="329.6" y="30.2" font-size="8.4" text-anchor="end" font-weight="normal" fill="#1a1a1a" stroke="#1a1a1a" stroke-width="0.12" >60</text>
<line x1="332.6" y1="50.2" x2="335.6" y2="50.2" stroke="#111" stroke-width="1"/>
<text x="329.6" y="53.2" font-size="8.4" text-anchor="end" font-weight="normal" fill="#1a1a1a" stroke="#1a1a1a" stroke-width="0.12" >40</text>
<line x1="332.6" y1="73.2" x2="335.6" y2="73.2" stroke="#111" stroke-width="1"/>
<text x="329.6" y="76.2" font-size="8.4" text-anchor="end" font-weight="normal" fill="#1a1a1a" stroke="#1a1a1a" stroke-width="0.12" >20</text>
<line x1="332.6" y1="96.2" x2="335.6" y2="96.2" stroke="#111" stroke-width="1"/>
<text x="329.6" y="99.2" font-size="8.4" text-anchor="end" font-weight="normal" fill="#1a1a1a" stroke="#1a1a1a" stroke-width="0.12" >0</text>
<line x1="333.6" y1="38.7" x2="335.6" y2="38.7" stroke="#111" stroke-width="0.8"/>
<line x1="333.6" y1="61.7" x2="335.6" y2="61.7" stroke="#111" stroke-width="0.8"/>
<line x1="333.6" y1="84.7" x2="335.6" y2="84.7" stroke="#111" stroke-width="0.8"/>
<line x1="335.6" y1="96.7" x2="335.6" y2="99.7" stroke="#111" stroke-width="1"/>
<line x1="353.5" y1="96.7" x2="353.5" y2="99.7" stroke="#111" stroke-width="1"/>
<line x1="371.4" y1="96.7" x2="371.4" y2="99.7" stroke="#111" stroke-width="1"/>
<line x1="389.3" y1="96.7" x2="389.3" y2="99.7" stroke="#111" stroke-width="1"/>
<line x1="407.2" y1="96.7" x2="407.2" y2="99.7" stroke="#111" stroke-width="1"/>
<line x1="340.9884369223853" y1="96.7" x2="340.9884369223853" y2="99.10000000000001" stroke="#111" stroke-width="0.8"/>
<line x1="344.140470459482" y1="96.7" x2="344.140470459482" y2="99.10000000000001" stroke="#111" stroke-width="0.8"/>
<line x1="346.37687384477056" y1="96.7" x2="346.37687384477056" y2="99.10000000000001" stroke="#111" stroke-width="0.8"/>
<line x1="348.11156307761473" y1="96.7" x2="348.11156307761473" y2="99.10000000000001" stroke="#111" stroke-width="0.8"/>
<line x1="349.5289073818672" y1="96.7" x2="349.5289073818672" y2="99.10000000000001" stroke="#111" stroke-width="0.8"/>
<line x1="350.7272549162552" y1="96.7" x2="350.7272549162552" y2="99.10000000000001" stroke="#111" stroke-width="0.8"/>
<line x1="351.7653107671558" y1="96.7" x2="351.7653107671558" y2="99.10000000000001" stroke="#111" stroke-width="0.8"/>
<line x1="352.6809409189639" y1="96.7" x2="352.6809409189639" y2="99.10000000000001" stroke="#111" stroke-width="0.8"/>
<line x1="358.88843692238527" y1="96.7" x2="358.88843692238527" y2="99.10000000000001" stroke="#111" stroke-width="0.8"/>
<line x1="362.040470459482" y1="96.7" x2="362.040470459482" y2="99.10000000000001" stroke="#111" stroke-width="0.8"/>
<line x1="364.27687384477053" y1="96.7" x2="364.27687384477053" y2="99.10000000000001" stroke="#111" stroke-width="0.8"/>
<line x1="366.0115630776147" y1="96.7" x2="366.0115630776147" y2="99.10000000000001" stroke="#111" stroke-width="0.8"/>
<line x1="367.4289073818672" y1="96.7" x2="367.4289073818672" y2="99.10000000000001" stroke="#111" stroke-width="0.8"/>
<line x1="368.6272549162552" y1="96.7" x2="368.6272549162552" y2="99.10000000000001" stroke="#111" stroke-width="0.8"/>
<line x1="369.6653107671558" y1="96.7" x2="369.6653107671558" y2="99.10000000000001" stroke="#111" stroke-width="0.8"/>
<line x1="370.5809409189639" y1="96.7" x2="370.5809409189639" y2="99.10000000000001" stroke="#111" stroke-width="0.8"/>
<line x1="376.78843692238524" y1="96.7" x2="376.78843692238524" y2="99.10000000000001" stroke="#111" stroke-width="0.8"/>
<line x1="379.94047045948196" y1="96.7" x2="379.94047045948196" y2="99.10000000000001" stroke="#111" stroke-width="0.8"/>
<line x1="382.1768738447705" y1="96.7" x2="382.1768738447705" y2="99.10000000000001" stroke="#111" stroke-width="0.8"/>
<line x1="383.9115630776147" y1="96.7" x2="383.9115630776147" y2="99.10000000000001" stroke="#111" stroke-width="0.8"/>
<line x1="385.32890738186717" y1="96.7" x2="385.32890738186717" y2="99.10000000000001" stroke="#111" stroke-width="0.8"/>
<line x1="386.5272549162552" y1="96.7" x2="386.5272549162552" y2="99.10000000000001" stroke="#111" stroke-width="0.8"/>
<line x1="387.5653107671558" y1="96.7" x2="387.5653107671558" y2="99.10000000000001" stroke="#111" stroke-width="0.8"/>
<line x1="388.4809409189639" y1="96.7" x2="388.4809409189639" y2="99.10000000000001" stroke="#111" stroke-width="0.8"/>
<line x1="394.6884369223853" y1="96.7" x2="394.6884369223853" y2="99.10000000000001" stroke="#111" stroke-width="0.8"/>
<line x1="397.840470459482" y1="96.7" x2="397.840470459482" y2="99.10000000000001" stroke="#111" stroke-width="0.8"/>
<line x1="400.07687384477055" y1="96.7" x2="400.07687384477055" y2="99.10000000000001" stroke="#111" stroke-width="0.8"/>
<line x1="401.8115630776147" y1="96.7" x2="401.8115630776147" y2="99.10000000000001" stroke="#111" stroke-width="0.8"/>
<line x1="403.2289073818672" y1="96.7" x2="403.2289073818672" y2="99.10000000000001" stroke="#111" stroke-width="0.8"/>
<line x1="404.4272549162552" y1="96.7" x2="404.4272549162552" y2="99.10000000000001" stroke="#111" stroke-width="0.8"/>
<line x1="405.4653107671558" y1="96.7" x2="405.4653107671558" y2="99.10000000000001" stroke="#111" stroke-width="0.8"/>
<line x1="406.3809409189639" y1="96.7" x2="406.3809409189639" y2="99.10000000000001" stroke="#111" stroke-width="0.8"/>
<text x="352.7" y="109.60000000000001" font-size="7.9" text-anchor="middle" fill="#1a1a1a" stroke="#1a1a1a" stroke-width="0.25" letter-spacing="-0.35">10<tspan font-size="5" dx="0.75" dy="-2.9">0</tspan></text>
<text x="370.59999999999997" y="109.60000000000001" font-size="7.9" text-anchor="middle" fill="#1a1a1a" stroke="#1a1a1a" stroke-width="0.25" letter-spacing="-0.35">10<tspan font-size="5" dx="0.75" dy="-2.9">1</tspan></text>
<text x="388.5" y="109.60000000000001" font-size="7.9" text-anchor="middle" fill="#1a1a1a" stroke="#1a1a1a" stroke-width="0.25" letter-spacing="-0.35">10<tspan font-size="5" dx="0.75" dy="-2.9">2</tspan></text>
<text x="406.4" y="109.60000000000001" font-size="7.9" text-anchor="middle" fill="#1a1a1a" stroke="#1a1a1a" stroke-width="0.25" letter-spacing="-0.35">10<tspan font-size="5" dx="0.75" dy="-2.9">3</tspan></text>
<text x="0" y="0" font-size="9.8" text-anchor="middle" fill="#1a1a1a" stroke="#1a1a1a" stroke-width="0.3" transform="translate(315.6 60) rotate(-90) scale(0.88 1)">Count</text>
<text x="0" y="0" font-size="10.2" text-anchor="middle" font-weight="normal" fill="#1a1a1a" stroke="#1a1a1a" stroke-width="0.08" transform="translate(476.2 16.2) scale(0.92 1)">ULBP-3</text>
<polyline points="444.00,96.70 444.47,96.07 445.10,95.43 446.34,94.80 447.21,93.30 448.19,91.80 448.87,90.30 449.89,87.70 451.22,85.10 452.09,82.50 452.15,78.73 452.73,74.97 453.12,71.20 454.04,68.53 453.75,65.87 454.66,63.20 455.27,59.03 455.55,54.87 455.49,50.70 456.38,45.53 456.27,40.37 457.34,35.20 457.18,38.47 457.99,41.73 457.77,45.00 458.54,46.90 459.25,48.80 458.94,50.70 459.34,54.87 460.13,59.03 460.26,63.20 460.72,65.87 461.64,68.53 462.34,71.20 462.69,74.97 462.91,78.73 462.94,82.50 464.02,85.10 464.75,87.70 465.54,90.30 466.58,91.80 468.12,93.30 469.20,94.80 471.32,95.37 473.53,95.93 476.00,96.50" fill="none" stroke="#9c9c9c" stroke-width="1.2" stroke-linejoin="round" stroke-opacity="0.8"/>
<polyline points="444.00,96.70 444.36,96.07 445.17,95.43 446.37,94.80 446.83,93.30 448.47,91.80 449.31,90.30 450.15,87.70 450.84,85.10 452.09,82.50 452.14,78.73 453.03,74.97 453.38,71.20 453.82,68.53 454.58,65.87 454.24,63.20 455.10,59.03 455.47,54.87 455.23,50.70 456.54,45.53 456.55,40.37 457.14,35.20 457.29,38.47 457.88,41.73 458.61,45.00 458.40,46.90 459.08,48.80 459.46,50.70 460.03,54.87 460.37,59.03 460.64,63.20 460.96,65.87 461.40,68.53 461.79,71.20 462.61,74.97 462.93,78.73 462.74,82.50 463.56,85.10 464.12,87.70 465.69,90.30 466.20,91.80 467.80,93.30 469.20,94.80 471.18,95.37 473.46,95.93 476.00,96.50" fill="none" stroke="#9c9c9c" stroke-width="1.2" stroke-linejoin="round" stroke-opacity="0.8"/>
<polygon points="446.21,47.00 446.40,45.60 447.50,36.70 449.30,45.60 449.60,47.00" fill="#111" stroke="none"/>
<polyline points="444.43,72.00 444.84,71.80 444.70,71.60 443.92,71.40 444.29,71.20 444.63,69.20 444.90,67.20 445.69,65.20 444.68,63.20 445.56,61.38 445.26,59.55 445.56,57.73 445.28,55.90 445.93,54.60 445.32,53.30 445.64,52.00 445.06,50.70 446.54,49.43 446.03,48.15 446.17,46.88 446.70,45.60 446.56,43.38 447.49,41.15 446.56,38.93 447.97,36.70 447.91,38.93 448.84,41.15 449.47,43.38 449.98,45.60 449.12,46.88 450.13,48.15 449.58,49.43 449.92,50.70 449.88,52.00 450.24,53.30 449.87,54.60 451.10,55.90 450.51,57.73 451.39,59.55 451.27,61.38 450.97,63.20 451.36,65.20 451.65,67.20 452.37,69.20 452.40,71.20 452.05,71.40 452.62,71.60 453.04,71.80 452.51,72.00" fill="none" stroke="#050505" stroke-width="1" stroke-linejoin="round"/>
<polyline points="444.43,72.00 444.86,71.80 443.85,71.60 444.85,71.40 445.01,71.20 444.10,69.20 445.41,67.20 445.43,65.20 445.07,63.20 445.15,61.38 445.66,59.55 445.44,57.73 445.80,55.90 445.85,54.60 445.07,53.30 446.03,52.00 445.99,50.70 446.47,49.43 446.35,48.15 446.44,46.88 446.73,45.60 446.24,43.38 446.95,41.15 447.78,38.93 448.10,36.70 447.28,38.93 448.93,41.15 449.04,43.38 449.17,45.60 449.06,46.88 450.36,48.15 449.78,49.43 450.53,50.70 449.86,52.00 450.58,53.30 450.40,54.60 450.33,55.90 450.33,57.73 450.35,59.55 451.72,61.38 451.55,63.20 450.96,65.20 452.01,67.20 452.52,69.20 452.40,71.20 452.01,71.40 453.06,71.60 452.96,71.80 452.51,72.00" fill="none" stroke="#050505" stroke-width="1" stroke-linejoin="round"/>
<polyline points="444.43,72.00 444.48,71.80 444.35,71.60 444.09,71.40 443.98,71.20 444.65,69.20 445.03,67.20 445.19,65.20 445.49,63.20 445.23,61.38 444.82,59.55 445.19,57.73 446.10,55.90 445.59,54.60 445.79,53.30 445.95,52.00 446.06,50.70 445.40,49.43 446.00,48.15 446.44,46.88 447.01,45.60 446.37,43.38 447.51,41.15 447.71,38.93 447.53,36.70 448.06,38.93 449.01,41.15 448.77,43.38 449.01,45.60 449.99,46.88 449.29,48.15 450.43,49.43 450.60,50.70 450.30,52.00 451.12,53.30 450.70,54.60 450.12,55.90 450.68,57.73 451.64,59.55 450.62,61.38 451.83,63.20 451.72,65.20 452.32,67.20 452.74,69.20 452.40,71.20 451.85,71.40 452.35,71.60 452.46,71.80 452.51,72.00" fill="none" stroke="#050505" stroke-width="1" stroke-linejoin="round"/>
<polyline points="444.43,72.00 444.44,71.80 444.27,71.60 444.79,71.40 444.43,71.20 444.61,69.20 444.19,67.20 444.79,65.20 445.17,63.20 445.26,61.38 444.87,59.55 445.29,57.73 445.47,55.90 446.26,54.60 446.00,53.30 446.26,52.00 445.05,50.70 445.49,49.43 446.10,48.15 445.61,46.88 446.02,45.60 446.76,43.38 446.25,41.15 447.07,38.93 446.84,36.70 447.59,38.93 448.95,41.15 448.69,43.38 448.97,45.60 450.15,46.88 450.35,48.15 449.78,49.43 450.30,50.70 450.03,52.00 450.87,53.30 450.49,54.60 450.98,55.90 451.16,57.73 450.49,59.55 450.69,61.38 451.74,63.20 452.17,65.20 451.45,67.20 452.65,69.20 452.40,71.20 452.01,71.40 452.23,71.60 452.67,71.80 452.51,72.00" fill="none" stroke="#050505" stroke-width="1" stroke-linejoin="round"/>
<polyline points="443.20,86.00 443.05,84.83 443.37,83.67 443.69,82.50 443.98,78.73 444.33,74.97 444.45,71.20 444.94,68.53 444.99,65.87 444.91,63.20 445.34,60.77 445.22,58.33 446.00,55.90 446.01,54.17 445.58,52.43 445.57,50.70 446.12,49.00 445.96,47.30 446.17,45.60 446.55,42.63 447.03,39.67 447.59,36.70 448.42,39.67 448.50,42.63 449.62,45.60 449.71,47.30 450.31,49.00 450.62,50.70 450.23,52.43 450.64,54.17 450.34,55.90 450.52,58.33 451.06,60.77 451.59,63.20 451.78,65.87 451.85,68.53 452.64,71.20 453.22,74.97 453.28,78.73 453.96,82.50 454.86,85.10 455.81,87.70 456.04,90.30 456.90,91.80 457.76,93.30 458.08,94.80 458.72,95.37 459.33,95.93 459.70,96.50 460.47,96.57 461.09,96.63 462.00,96.70" fill="none" stroke="#050505" stroke-width="1.15" stroke-linejoin="round" stroke-opacity="1"/>
<rect x="443" y="31.3" width="66.39999999999998" height="65.4" fill="none" stroke="#111" stroke-width="1.3"/>
<line x1="443" y1="31.95" x2="443" y2="96.05" stroke="#777" stroke-width="1.4"/>
<line x1="440" y1="38.9" x2="443" y2="38.9" stroke="#111" stroke-width="1"/>
<text x="436.4" y="41.9" font-size="8.4" text-anchor="end" font-weight="normal" fill="#1a1a1a" stroke="#1a1a1a" stroke-width="0.12" >40</text>
<line x1="440" y1="67.5" x2="443" y2="67.5" stroke="#111" stroke-width="1"/>
<text x="436.4" y="70.5" font-size="8.4" text-anchor="end" font-weight="normal" fill="#1a1a1a" stroke="#1a1a1a" stroke-width="0.12" >20</text>
<line x1="440" y1="96.1" x2="443" y2="96.1" stroke="#111" stroke-width="1"/>
<text x="436.4" y="99.1" font-size="8.4" text-anchor="end" font-weight="normal" fill="#1a1a1a" stroke="#1a1a1a" stroke-width="0.12" >0</text>
<line x1="441" y1="53.199999999999996" x2="443" y2="53.199999999999996" stroke="#111" stroke-width="0.8"/>
<line x1="441" y1="81.8" x2="443" y2="81.8" stroke="#111" stroke-width="0.8"/>
<line x1="443.0" y1="96.7" x2="443.0" y2="99.7" stroke="#111" stroke-width="1"/>
<line x1="459.6" y1="96.7" x2="459.6" y2="99.7" stroke="#111" stroke-width="1"/>
<line x1="476.2" y1="96.7" x2="476.2" y2="99.7" stroke="#111" stroke-width="1"/>
<line x1="492.79999999999995" y1="96.7" x2="492.79999999999995" y2="99.7" stroke="#111" stroke-width="1"/>
<line x1="509.4" y1="96.7" x2="509.4" y2="99.7" stroke="#111" stroke-width="1"/>
<line x1="447.9970979280221" y1="96.7" x2="447.9970979280221" y2="99.10000000000001" stroke="#111" stroke-width="0.8"/>
<line x1="450.9202128283464" y1="96.7" x2="450.9202128283464" y2="99.10000000000001" stroke="#111" stroke-width="0.8"/>
<line x1="452.99419585604414" y1="96.7" x2="452.99419585604414" y2="99.10000000000001" stroke="#111" stroke-width="0.8"/>
<line x1="454.6029020719779" y1="96.7" x2="454.6029020719779" y2="99.10000000000001" stroke="#111" stroke-width="0.8"/>
<line x1="455.91731075636847" y1="96.7" x2="455.91731075636847" y2="99.10000000000001" stroke="#111" stroke-width="0.8"/>
<line x1="457.02862746423665" y1="96.7" x2="457.02862746423665" y2="99.10000000000001" stroke="#111" stroke-width="0.8"/>
<line x1="457.9912937840663" y1="96.7" x2="457.9912937840663" y2="99.10000000000001" stroke="#111" stroke-width="0.8"/>
<line x1="458.8404256566928" y1="96.7" x2="458.8404256566928" y2="99.10000000000001" stroke="#111" stroke-width="0.8"/>
<line x1="464.5970979280221" y1="96.7" x2="464.5970979280221" y2="99.10000000000001" stroke="#111" stroke-width="0.8"/>
<line x1="467.5202128283464" y1="96.7" x2="467.5202128283464" y2="99.10000000000001" stroke="#111" stroke-width="0.8"/>
<line x1="469.59419585604417" y1="96.7" x2="469.59419585604417" y2="99.10000000000001" stroke="#111" stroke-width="0.8"/>
<line x1="471.2029020719779" y1="96.7" x2="471.2029020719779" y2="99.10000000000001" stroke="#111" stroke-width="0.8"/>
<line x1="472.5173107563685" y1="96.7" x2="472.5173107563685" y2="99.10000000000001" stroke="#111" stroke-width="0.8"/>
<line x1="473.6286274642367" y1="96.7" x2="473.6286274642367" y2="99.10000000000001" stroke="#111" stroke-width="0.8"/>
<line x1="474.5912937840663" y1="96.7" x2="474.5912937840663" y2="99.10000000000001" stroke="#111" stroke-width="0.8"/>
<line x1="475.4404256566928" y1="96.7" x2="475.4404256566928" y2="99.10000000000001" stroke="#111" stroke-width="0.8"/>
<line x1="481.19709792802206" y1="96.7" x2="481.19709792802206" y2="99.10000000000001" stroke="#111" stroke-width="0.8"/>
<line x1="484.1202128283464" y1="96.7" x2="484.1202128283464" y2="99.10000000000001" stroke="#111" stroke-width="0.8"/>
<line x1="486.1941958560442" y1="96.7" x2="486.1941958560442" y2="99.10000000000001" stroke="#111" stroke-width="0.8"/>
<line x1="487.8029020719779" y1="96.7" x2="487.8029020719779" y2="99.10000000000001" stroke="#111" stroke-width="0.8"/>
<line x1="489.11731075636845" y1="96.7" x2="489.11731075636845" y2="99.10000000000001" stroke="#111" stroke-width="0.8"/>
<line x1="490.22862746423664" y1="96.7" x2="490.22862746423664" y2="99.10000000000001" stroke="#111" stroke-width="0.8"/>
<line x1="491.19129378406626" y1="96.7" x2="491.19129378406626" y2="99.10000000000001" stroke="#111" stroke-width="0.8"/>
<line x1="492.0404256566928" y1="96.7" x2="492.0404256566928" y2="99.10000000000001" stroke="#111" stroke-width="0.8"/>
<line x1="497.797097928022" y1="96.7" x2="497.797097928022" y2="99.10000000000001" stroke="#111" stroke-width="0.8"/>
<line x1="500.72021282834635" y1="96.7" x2="500.72021282834635" y2="99.10000000000001" stroke="#111" stroke-width="0.8"/>
<line x1="502.7941958560441" y1="96.7" x2="502.7941958560441" y2="99.10000000000001" stroke="#111" stroke-width="0.8"/>
<line x1="504.40290207197785" y1="96.7" x2="504.40290207197785" y2="99.10000000000001" stroke="#111" stroke-width="0.8"/>
<line x1="505.7173107563684" y1="96.7" x2="505.7173107563684" y2="99.10000000000001" stroke="#111" stroke-width="0.8"/>
<line x1="506.8286274642366" y1="96.7" x2="506.8286274642366" y2="99.10000000000001" stroke="#111" stroke-width="0.8"/>
<line x1="507.7912937840662" y1="96.7" x2="507.7912937840662" y2="99.10000000000001" stroke="#111" stroke-width="0.8"/>
<line x1="508.64042565669274" y1="96.7" x2="508.64042565669274" y2="99.10000000000001" stroke="#111" stroke-width="0.8"/>
<text x="458.8" y="109.60000000000001" font-size="7.9" text-anchor="middle" fill="#1a1a1a" stroke="#1a1a1a" stroke-width="0.25" letter-spacing="-0.35">10<tspan font-size="5" dx="0.75" dy="-2.9">0</tspan></text>
<text x="475.4" y="109.60000000000001" font-size="7.9" text-anchor="middle" fill="#1a1a1a" stroke="#1a1a1a" stroke-width="0.25" letter-spacing="-0.35">10<tspan font-size="5" dx="0.75" dy="-2.9">1</tspan></text>
<text x="491.99999999999994" y="109.60000000000001" font-size="7.9" text-anchor="middle" fill="#1a1a1a" stroke="#1a1a1a" stroke-width="0.25" letter-spacing="-0.35">10<tspan font-size="5" dx="0.75" dy="-2.9">2</tspan></text>
<text x="508.59999999999997" y="109.60000000000001" font-size="7.9" text-anchor="middle" fill="#1a1a1a" stroke="#1a1a1a" stroke-width="0.25" letter-spacing="-0.35">10<tspan font-size="5" dx="0.75" dy="-2.9">3</tspan></text>
<text x="0" y="0" font-size="9.8" text-anchor="middle" fill="#1a1a1a" stroke="#1a1a1a" stroke-width="0.3" transform="translate(423 64) rotate(-90) scale(0.88 1)">Count</text>
<line x1="201.5" y1="141" x2="201.5" y2="266.7" stroke="#111" stroke-width="1.2"/>
<line x1="198.5" y1="266.7" x2="201.5" y2="266.7" stroke="#111" stroke-width="1"/>
<text x="196.0" y="269.7" font-size="8.4" text-anchor="end" font-weight="normal" fill="#1a1a1a" stroke="#1a1a1a" stroke-width="0.1" >−10</text>
<line x1="198.5" y1="246.2" x2="201.5" y2="246.2" stroke="#111" stroke-width="1"/>
<text x="196.0" y="249.2" font-size="8.4" text-anchor="end" font-weight="normal" fill="#1a1a1a" stroke="#1a1a1a" stroke-width="0.1" >0</text>
<line x1="198.5" y1="225.7" x2="201.5" y2="225.7" stroke="#111" stroke-width="1"/>
<text x="196.0" y="228.7" font-size="8.4" text-anchor="end" font-weight="normal" fill="#1a1a1a" stroke="#1a1a1a" stroke-width="0.1" >10</text>
<line x1="198.5" y1="205.2" x2="201.5" y2="205.2" stroke="#111" stroke-width="1"/>
<text x="196.0" y="208.2" font-size="8.4" text-anchor="end" font-weight="normal" fill="#1a1a1a" stroke="#1a1a1a" stroke-width="0.1" >20</text>
<line x1="198.5" y1="184.7" x2="201.5" y2="184.7" stroke="#111" stroke-width="1"/>
<text x="196.0" y="187.7" font-size="8.4" text-anchor="end" font-weight="normal" fill="#1a1a1a" stroke="#1a1a1a" stroke-width="0.1" >30</text>
<line x1="198.5" y1="164.2" x2="201.5" y2="164.2" stroke="#111" stroke-width="1"/>
<text x="196.0" y="167.2" font-size="8.4" text-anchor="end" font-weight="normal" fill="#1a1a1a" stroke="#1a1a1a" stroke-width="0.1" >40</text>
<line x1="198.5" y1="143.7" x2="201.5" y2="143.7" stroke="#111" stroke-width="1"/>
<text x="196.0" y="146.7" font-size="8.4" text-anchor="end" font-weight="normal" fill="#1a1a1a" stroke="#1a1a1a" stroke-width="0.1" >50</text>
<line x1="201.5" y1="246.2" x2="386.8" y2="246.2" stroke="#111" stroke-width="1.3"/>
<line x1="201.5" y1="266.7" x2="386.8" y2="266.7" stroke="#111" stroke-width="1.3"/>
<text x="176.5" y="203.3" font-size="9.1" text-anchor="middle" font-weight="normal" fill="#1a1a1a" stroke="#1a1a1a" stroke-width="0.1" transform="rotate(-90 176.5 203.3)">% cytotoxicity</text>
<rect x="206.1" y="183.7" width="21.7" height="62.5" fill="#000"/>
<line x1="216.95" y1="183.67499999999998" x2="216.95" y2="181.625" stroke="#000" stroke-width="1.5"/>
<line x1="211.95" y1="181.625" x2="221.95" y2="181.625" stroke="#000" stroke-width="1.5"/>
<rect x="237.1" y="180.6" width="21.7" height="65.6" fill="#b2b2b2"/>
<line x1="247.95" y1="180.59999999999997" x2="247.95" y2="179.0625" stroke="#000" stroke-width="1.5"/>
<line x1="242.95" y1="179.0625" x2="252.95" y2="179.0625" stroke="#000" stroke-width="1.5"/>
<rect x="268.1" y="185.7" width="21.7" height="60.5" fill="#666"/>
<line x1="278.95000000000005" y1="185.725" x2="278.95000000000005" y2="180.59999999999997" stroke="#000" stroke-width="1.5"/>
<line x1="273.95000000000005" y1="180.59999999999997" x2="283.95000000000005" y2="180.59999999999997" stroke="#000" stroke-width="1.5"/>
<rect x="299.1" y="162.1" width="21.7" height="84.1" fill="#000"/>
<line x1="309.95000000000005" y1="162.14999999999998" x2="309.95000000000005" y2="153.335" stroke="#000" stroke-width="1.5"/>
<line x1="304.95000000000005" y1="153.335" x2="314.95000000000005" y2="153.335" stroke="#000" stroke-width="1.5"/>
<rect x="330.1" y="157.0" width="21.7" height="89.2" fill="#b2b2b2"/>
<line x1="340.95000000000005" y1="157.02499999999998" x2="340.95000000000005" y2="153.95" stroke="#000" stroke-width="1.5"/>
<line x1="335.95000000000005" y1="153.95" x2="345.95000000000005" y2="153.95" stroke="#000" stroke-width="1.5"/>
<rect x="361.1" y="192.3" width="21.7" height="53.9" fill="#666"/>
<line x1="371.95000000000005" y1="192.285" x2="371.95000000000005" y2="185.10999999999999" stroke="#000" stroke-width="1.5"/>
<line x1="366.95000000000005" y1="185.10999999999999" x2="376.95000000000005" y2="185.10999999999999" stroke="#000" stroke-width="1.5"/>
<text x="186.6" y="284.8" font-size="8.2" text-anchor="end" font-weight="normal" fill="#1a1a1a" stroke="#1a1a1a" stroke-width="0.1" >None</text>
<line x1="214.5" y1="282.5" x2="219.5" y2="282.5" stroke="#3a3a3a" stroke-width="0.9"/>
<line x1="245.5" y1="282.5" x2="250.5" y2="282.5" stroke="#3a3a3a" stroke-width="0.9"/>
<line x1="276.5" y1="282.5" x2="281.5" y2="282.5" stroke="#3a3a3a" stroke-width="0.9"/>
<line x1="307.5" y1="282.5" x2="312.5" y2="282.5" stroke="#3a3a3a" stroke-width="0.9"/>
<line x1="338.5" y1="282.5" x2="343.5" y2="282.5" stroke="#3a3a3a" stroke-width="0.9"/>
<line x1="369.5" y1="282.5" x2="374.5" y2="282.5" stroke="#3a3a3a" stroke-width="0.9"/>
<text x="186.6" y="297.5" font-size="8.2" text-anchor="end" font-weight="normal" fill="#1a1a1a" stroke="#1a1a1a" stroke-width="0.1" >Isotype</text>
<line x1="214.5" y1="295.4" x2="219.5" y2="295.4" stroke="#3a3a3a" stroke-width="0.9"/>
<line x1="245.5" y1="295.4" x2="250.5" y2="295.4" stroke="#3a3a3a" stroke-width="0.9"/>
<line x1="248" y1="292.9" x2="248" y2="297.9" stroke="#3a3a3a" stroke-width="0.9"/>
<line x1="276.5" y1="295.4" x2="281.5" y2="295.4" stroke="#3a3a3a" stroke-width="0.9"/>
<line x1="307.5" y1="295.4" x2="312.5" y2="295.4" stroke="#3a3a3a" stroke-width="0.9"/>
<line x1="338.5" y1="295.4" x2="343.5" y2="295.4" stroke="#3a3a3a" stroke-width="0.9"/>
<line x1="341" y1="292.9" x2="341" y2="297.9" stroke="#3a3a3a" stroke-width="0.9"/>
<line x1="369.5" y1="295.4" x2="374.5" y2="295.4" stroke="#3a3a3a" stroke-width="0.9"/>
<text x="186.6" y="310.6" font-size="8.2" text-anchor="end" font-weight="normal" fill="#1a1a1a" stroke="#1a1a1a" stroke-width="0.1" >ULBP-3</text>
<line x1="214.5" y1="308.4" x2="219.5" y2="308.4" stroke="#3a3a3a" stroke-width="0.9"/>
<line x1="245.5" y1="308.4" x2="250.5" y2="308.4" stroke="#3a3a3a" stroke-width="0.9"/>
<line x1="276.5" y1="308.4" x2="281.5" y2="308.4" stroke="#3a3a3a" stroke-width="0.9"/>
<line x1="279" y1="305.9" x2="279" y2="310.9" stroke="#3a3a3a" stroke-width="0.9"/>
<line x1="307.5" y1="308.4" x2="312.5" y2="308.4" stroke="#3a3a3a" stroke-width="0.9"/>
<line x1="338.5" y1="308.4" x2="343.5" y2="308.4" stroke="#3a3a3a" stroke-width="0.9"/>
<line x1="369.5" y1="308.4" x2="374.5" y2="308.4" stroke="#3a3a3a" stroke-width="0.9"/>
<line x1="372" y1="305.9" x2="372" y2="310.9" stroke="#3a3a3a" stroke-width="0.9"/>
<line x1="147.5" y1="317.6" x2="197" y2="317.6" stroke="#111" stroke-width="1.3"/>
<line x1="211" y1="317.6" x2="283.5" y2="317.6" stroke="#111" stroke-width="1.3"/>
<line x1="304" y1="317.6" x2="376.5" y2="317.6" stroke="#111" stroke-width="1.3"/>
<text x="172.3" y="330.4" font-size="8.3" text-anchor="middle" font-weight="normal" fill="#1a1a1a" stroke="#1a1a1a" stroke-width="0.1" >Block</text>
<text x="247.7" y="330.4" font-size="8.3" text-anchor="middle" font-weight="normal" fill="#1a1a1a" stroke="#1a1a1a" stroke-width="0.1" >Day 1</text>
<text x="340.3" y="330.4" font-size="8.3" text-anchor="middle" font-weight="normal" fill="#1a1a1a" stroke="#1a1a1a" stroke-width="0.1" >Day 28</text></svg>
</div></body></html>
